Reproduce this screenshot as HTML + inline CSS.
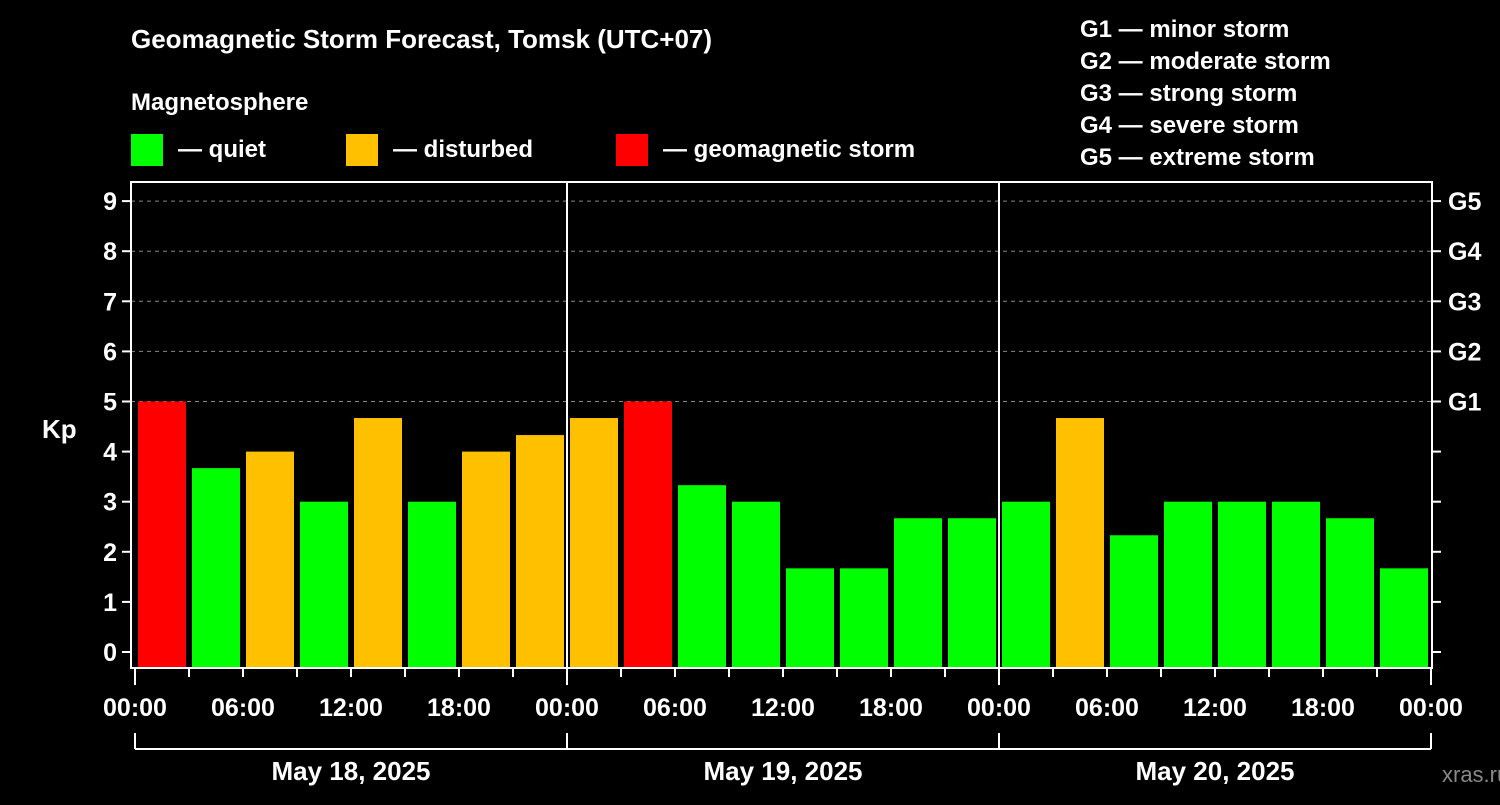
<!DOCTYPE html>
<html><head><meta charset="utf-8"><style>
body{margin:0;background:#000;width:1500px;height:800px;overflow:hidden}
svg text{font-family:"Liberation Sans",sans-serif;font-weight:bold;fill:#fff}
</style></head><body>
<svg id="c" width="1500" height="800">
<text x="131" y="48" font-size="26">Geomagnetic Storm Forecast, Tomsk (UTC+07)</text>
<text x="131" y="110" font-size="24">Magnetosphere</text>
<g><rect x="131" y="134" width="32" height="32" fill="#00ff00"/><text x="178" y="157" font-size="24">— quiet</text></g>
<g><rect x="346" y="134" width="32" height="32" fill="#ffc000"/><text x="393" y="157" font-size="24">— disturbed</text></g>
<g><rect x="616" y="134" width="32" height="32" fill="#ff0000"/><text x="663" y="157" font-size="24">— geomagnetic storm</text></g>
<g font-size="24">
<text x="1080" y="37">G1 — minor storm</text><text x="1080" y="69">G2 — moderate storm</text><text x="1080" y="101">G3 — strong storm</text><text x="1080" y="133">G4 — severe storm</text><text x="1080" y="165">G5 — extreme storm</text></g>
<text x="42" y="438" font-size="26">Kp</text>
<text x="1442" y="782" font-size="22" fill="#888" style="fill:#888;font-weight:normal">xras.ru</text>
<g id="plot"></g>
</svg>
<script>
const kpValues=[5.67,5,3.67,4,3,4.67,3,4,4.33,4.67,5,3.33,3,1.67,1.67,2.67,2.67,3,4.67,2.33,3,3,3,2.67,1.67];
const yTicks=[0,1,2,3,4,5,6,7,8,9];
const gLabels=["G1","G2","G3","G4","G5"];
const hourLabels=["00:00","06:00","12:00","18:00"];
const dayLabels=["May 18, 2025","May 19, 2025","May 20, 2025"];
const L=131,R=1432,T=182,B=668,X0=135,PXH=18;
const y=v=>652-50.1*v;
const xh=h=>X0+h*PXH;
const ns="http://www.w3.org/2000/svg";
const plot=document.getElementById('plot');
function mk(tag,at,parent){const e=document.createElementNS(ns,tag);for(const k in at)e.setAttribute(k,at[k]);(parent||plot).appendChild(e);return e;}
const cp=mk('clipPath',{id:'cl'});mk('rect',{x:X0+1,y:T,width:1428-X0-1,height:B-T},cp);
// grid
for(let v=5;v<=9;v++){const g=mk('line',{x1:L,x2:R,y1:y(v),y2:y(v),stroke:'#888','stroke-dasharray':'4,4','stroke-width':1});

}
// bars
const bars=mk('g',{'clip-path':'url(#cl)'});
kpValues.forEach((v,i)=>{const c=xh(-1.5+3*i);const col=v>=5?'#ff0000':v>=4?'#ffc000':'#00ff00';
const r=mk('rect',{x:c-24,y:y(v),width:48,height:B-y(v),fill:col},bars);

});
// day separators
[1,2].forEach(d=>{const l=mk('line',{x1:xh(24*d),x2:xh(24*d),y1:T,y2:B,stroke:'#fff','stroke-width':2});

});
// frame
const f=mk('rect',{x:L,y:T,width:R-L,height:B-T,fill:'none',stroke:'#fff','stroke-width':2});


// y ticks
yTicks.forEach(v=>{mk('line',{x1:L-9,x2:L,y1:y(v),y2:y(v),stroke:'#fff','stroke-width':2});
mk('line',{x1:R,x2:R+9,y1:y(v),y2:y(v),stroke:'#fff','stroke-width':2});
const t=mk('text',{x:L-14,y:y(v)+9,'font-size':25,'text-anchor':'end'});t.textContent=v;

});
gLabels.forEach((g,i)=>{const t=mk('text',{x:R+16,y:y(5+i)+9,'font-size':25});t.textContent=g;

});
// x ticks
for(let h=0;h<=72;h+=3){const major=h%24==0;mk('line',{x1:xh(h),x2:xh(h),y1:B,y2:B+(major?17:9),stroke:'#fff','stroke-width':2});}
for(let h=0;h<=72;h+=6){const t=mk('text',{x:xh(h),y:716,'font-size':25,'text-anchor':'middle'});t.textContent=hourLabels[(h/6)%4];

}
// bracket
mk('line',{x1:xh(0),x2:xh(72),y1:749,y2:749,stroke:'#fff','stroke-width':2});
for(let d=0;d<=3;d++)mk('line',{x1:xh(24*d),x2:xh(24*d),y1:733,y2:749,stroke:'#fff','stroke-width':2});
dayLabels.forEach((s,d)=>{const t=mk('text',{x:xh(24*d+12),y:780,'font-size':26,'text-anchor':'middle'});t.textContent=s;

});
</script>
</body></html>
